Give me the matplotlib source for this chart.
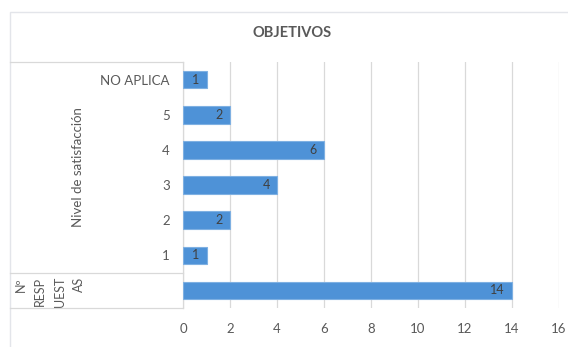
import matplotlib
matplotlib.use("Agg")
import matplotlib.pyplot as plt
import matplotlib.transforms as mtransforms
from matplotlib.patches import Rectangle
from matplotlib.lines import Line2D

plt.rcParams['font.family'] = ['Lato', 'DejaVu Sans']

# ---- data -------------------------------------------------------------
title = "OBJETIVOS"
categories = ["Nº RESPUESTAS", "1", "2", "3", "4", "5", "NO APLICA"]
inner_labels = ["", "1", "2", "3", "4", "5", "NO APLICA"]
values = [14, 1, 2, 4, 6, 2, 1]
group_label = "Nivel de satisfacción"
total_label = "Nº\nRESP\nUEST\nAS"
x_ticks = [0, 2, 4, 6, 8, 10, 12, 14, 16]

# ---- figure -----------------------------------------------------------
W, H = 568, 347
fig = plt.figure(figsize=(W / 100, H / 100), dpi=100)
fig.patch.set_facecolor("white")


def fx(px):
    return px / W


def fy(py):
    return 1 - py / H


GRID = "#d9d9d9"
TEXT = "#595959"
BAR = "#4e92d7"

# outer chart frame
fig.patches.append(Rectangle((fx(10), fy(360)), fx(600) - fx(10), fy(12) - fy(360),
                             transform=fig.transFigure, fill=False,
                             edgecolor="#e3e5ea", lw=1.0, clip_on=False))

fig.text(fx(292), fy(33), title, ha="center", va="center",
         fontsize=10.5, fontweight="bold", color=TEXT)

ax = fig.add_axes([fx(183), fy(308), fx(559) - fx(183), fy(62) - fy(308)])
pos = list(range(len(categories)))

ax.barh(pos, values, height=0.5, color=BAR, edgecolor="#7eb0e2", linewidth=0.8, zorder=3)

for p, v in zip(pos, values):
    ax.annotate(str(v), xy=(v, p), xytext=(-5, 0), textcoords="offset points",
                ha="right", va="center", fontsize=9, color="#404040", zorder=4)

ax.set_xlim(0, 16)
ax.set_ylim(-0.5, len(categories) - 0.5)
ax.set_xticks(x_ticks)
ax.set_xticklabels([str(t) for t in x_ticks])
ax.set_yticks(pos)
ax.set_yticklabels(inner_labels)
ax.tick_params(axis="x", length=0, pad=11, labelsize=9.5, labelcolor=TEXT)
ax.tick_params(axis="y", length=0, pad=9.5, labelsize=9.5, labelcolor=TEXT)
ax.grid(axis="x", color=GRID, lw=0.9, zorder=0)
ax.set_axisbelow(True)
for side in ("top", "right", "bottom"):
    ax.spines[side].set_visible(False)
ax.spines["left"].set_color(GRID)
ax.spines["left"].set_linewidth(0.9)

# multi-level category axis: separators and outer labels
blend = mtransforms.blended_transform_factory(fig.transFigure, ax.transData)
for yb in (-0.5, 0.5, len(categories) - 0.5):
    fig.lines.append(Line2D([fx(10), fx(183)], [yb, yb], transform=blend,
                            color=GRID, lw=0.9, clip_on=False))

ax.text(fx(78), (0.5 + len(categories) - 0.5) / 2, group_label, transform=blend,
        rotation=90, ha="center", va="center", fontsize=9.5, color=TEXT)

ax.annotate(total_label, xy=(fx(50), 0.5), xycoords=blend, xytext=(0, -3),
            textcoords="offset points", rotation=90, ha="center", va="top",
            multialignment="right", linespacing=1.75, fontsize=9, color=TEXT)

fig.savefig("out.png", dpi=100)
